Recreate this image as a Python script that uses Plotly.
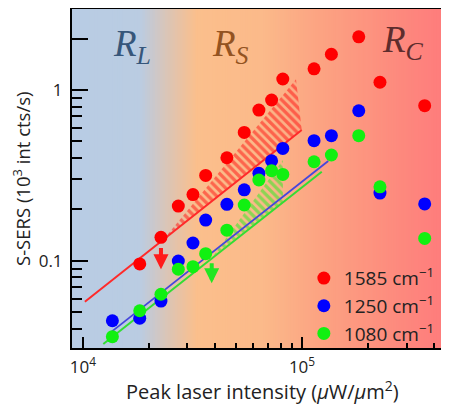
import math
import plotly.graph_objects as go

# ---------------- data ----------------
intensity = [13620, 18160, 22700, 27240, 31780, 36320, 45400, 54480, 63560,
             72640, 81720, 113500, 136200, 181600, 227000, 363200]
sers_1585 = [0.0957, 0.137, 0.209, 0.244, 0.316, 0.401, 0.564, 0.763, 0.874,
             1.16, 1.33, 1.62, 2.05, 1.11, 0.809]
sers_1250 = [0.0445, 0.046, 0.058, 0.0996, 0.127, 0.173, 0.214, 0.260, 0.325,
             0.385, 0.455, 0.505, 0.540, 0.756, 0.249, 0.215]
sers_1080 = [0.0359, 0.0509, 0.0636, 0.0891, 0.0922, 0.110, 0.151, 0.212, 0.297,
             0.337, 0.320, 0.380, 0.416, 0.540, 0.271, 0.135]

fit_1585_x = [10200, 99700]
fit_1585_y = [0.0575, 0.583]
fit_1250_x = [13520, 131800]
fit_1250_y = [0.0384, 0.384]
fit_1080_x = [12380, 123100]
fit_1080_y = [0.0325, 0.332]

hatch_1585_x = [23200, 99700, 93900]
hatch_1585_y = [0.132, 0.583, 1.155]
hatch_1080_x = [39300, 81800, 81800]
hatch_1080_y = [0.1066, 0.221, 0.389]

arrow_1585 = dict(x=22700, y_from=0.121, y_to=0.0891)
arrow_1080 = dict(x=38700, y_from=0.0987, y_to=0.0737)

series_names = ["1585 cm<sup>\u22121</sup>", "1250 cm<sup>\u22121</sup>", "1080 cm<sup>\u22121</sup>"]
region_labels = ["<i>R<sub>L</sub></i>", "<i>R<sub>S</sub></i>", "<i>R<sub>C</sub></i>"]

x_ticks = [1e4, 1e5]
x_ticktext = ["10<sup>4</sup>", "10<sup>5</sup>"]
x_minor = [2e4, 3e4, 4e4, 5e4, 6e4, 7e4, 8e4, 9e4, 2e5, 3e5, 4e5]
y_ticks = [0.1, 1, 2]
y_ticktext = ["0.1", "1", ""]
y_minor = [0.04, 0.05, 0.06, 0.07, 0.08, 0.09, 0.2, 0.3, 0.4, 0.5, 0.6, 0.7, 0.8, 0.9]

RED, BLUE, GREEN = "#ff0000", "#0000ff", "#11f011"
FONT = "Open Sans"

fig = go.Figure()

# hatched regions
fig.add_trace(go.Scatter(x=hatch_1585_x, y=hatch_1585_y, mode="lines", fill="toself",
                         line=dict(width=0), fillcolor="rgba(0,0,0,0)",
                         fillpattern=dict(shape="\\", fgcolor="#ff0d0d", bgcolor="rgba(0,0,0,0)",
                                          size=6, solidity=0.55),
                         showlegend=False, hoverinfo="skip"))
fig.add_trace(go.Scatter(x=hatch_1080_x, y=hatch_1080_y, mode="lines", fill="toself",
                         line=dict(width=0), fillcolor="rgba(0,0,0,0)",
                         fillpattern=dict(shape="\\", fgcolor="#1ef01e", bgcolor="rgba(0,0,0,0)",
                                          size=6, solidity=0.55),
                         showlegend=False, hoverinfo="skip"))

# fit lines
fig.add_trace(go.Scatter(x=fit_1585_x, y=fit_1585_y, mode="lines",
                         line=dict(color="#ff2a2a", width=2), showlegend=False))
fig.add_trace(go.Scatter(x=fit_1080_x, y=fit_1080_y, mode="lines",
                         line=dict(color="#33dd33", width=2), showlegend=False))
fig.add_trace(go.Scatter(x=fit_1250_x, y=fit_1250_y, mode="lines",
                         line=dict(color="#4646dc", width=1.8), showlegend=False))

# data
fig.add_trace(go.Scatter(x=intensity[1:], y=sers_1585, mode="markers", name=series_names[0],
                         marker=dict(color=RED, size=13)))
fig.add_trace(go.Scatter(x=intensity, y=sers_1250, mode="markers", name=series_names[1],
                         marker=dict(color=BLUE, size=13)))
fig.add_trace(go.Scatter(x=intensity, y=sers_1080, mode="markers", name=series_names[2],
                         marker=dict(color=GREEN, size=13)))

# background gradient (plot area)
stops = [(0.0, (184, 204, 228)), (0.18, (186, 204, 226)), (0.26, (222, 196, 178)),
         (0.33, (251, 191, 140)), (0.50, (251, 186, 138)), (0.66, (252, 163, 130)),
         (0.82, (253, 143, 126)), (1.0, (254, 122, 124))]


def col(t):
    for (t0, c0), (t1, c1) in zip(stops[:-1], stops[1:]):
        if t0 <= t <= t1:
            f = (t - t0) / (t1 - t0) if t1 > t0 else 0
            return "rgb(%d,%d,%d)" % tuple(round(a + (b - a) * f) for a, b in zip(c0, c1))
    return "rgb(%d,%d,%d)" % stops[-1][1]


shapes = []
N = 150
for i in range(N):
    x0, x1 = i / N, (i + 1) / N + 0.002
    shapes.append(dict(type="rect", xref="paper", yref="paper", x0=x0, x1=min(x1, 1),
                       y0=0, y1=1, fillcolor=col((i + 0.5) / N), line=dict(width=0),
                       layer="below"))

annotations = []
# arrows
for a, c in ((arrow_1585, "#ff1a1a"), (arrow_1080, "#22e622")):
    annotations.append(dict(x=math.log10(a["x"]), y=math.log10(a["y_to"]),
                            ax=math.log10(a["x"]), ay=math.log10(a["y_from"]),
                            xref="x", yref="y", axref="x", ayref="y", text="",
                            showarrow=True, arrowhead=2, arrowsize=0.75, arrowwidth=4,
                            arrowcolor=c))
# region labels
for lbl, xp, yp, c in zip(region_labels, [0.158, 0.420, 0.879], [0.89, 0.89, 0.902],
                          ["#36567a", "#935321", "#5e2d2d"]):
    annotations.append(dict(text=lbl, x=xp, y=yp, xref="paper", yref="paper",
                            showarrow=False, xanchor="center", yanchor="middle",
                            font=dict(family="Liberation Serif", size=37, color=c),
                            ))
# axis titles
annotations.append(dict(text="Peak laser intensity (<i>\u03bc</i>W/<i>\u03bc</i>m<sup>2</sup>)",
                        x=0.505, y=-0.124, xref="paper", yref="paper", showarrow=False,
                        xanchor="center", yanchor="middle",
                        font=dict(family=FONT, size=20, color="#222")))
annotations.append(dict(text="S-SERS (10<sup>3</sup> int cts/s)", textangle=-90,
                        x=-0.134, y=0.5, xref="paper", yref="paper", showarrow=False,
                        xanchor="center", yanchor="middle",
                        font=dict(family=FONT, size=18.5, color="#222")))

# page body has an 8px margin: the figure is laid out so that the plot area
# lands where the reference shows it inside the 449x408 window
fig.update_layout(
    width=441, height=400,
    margin=dict(l=64, r=0, t=1, b=60),
    paper_bgcolor="white", plot_bgcolor="#b8cce4",
    font=dict(family=FONT, size=17, color="#222"),
    shapes=shapes, annotations=annotations,
    legend=dict(x=0.615, y=0.262, xanchor="left", yanchor="top",
                bgcolor="rgba(0,0,0,0)", font=dict(size=19, family=FONT, color="#222"),
                itemsizing="trace"),
    xaxis=dict(type="log", range=[3.9498, 5.6712], showgrid=False, zeroline=False,
               showline=True, linecolor="black", linewidth=2, mirror=True,
               ticks="inside", ticklen=11, tickwidth=2, tickcolor="black",
               tickvals=x_ticks, ticktext=x_ticktext, ticklabelstandoff=3,
               minor=dict(tickvals=x_minor, ticks="inside", ticklen=5, tickwidth=2,
                          tickcolor="black", showgrid=False)),
    yaxis=dict(type="log", range=[-1.5114, 0.4745], showgrid=False, zeroline=False,
               showline=True, linecolor="black", linewidth=2, mirror=False,
               ticks="inside", ticklen=16, tickwidth=2, tickcolor="black",
               tickvals=y_ticks, ticktext=y_ticktext, ticklabelstandoff=4,
               minor=dict(tickvals=y_minor, ticks="inside", ticklen=10, tickwidth=2,
                          tickcolor="black", showgrid=False)),
)

fig.write_html("out.html")
